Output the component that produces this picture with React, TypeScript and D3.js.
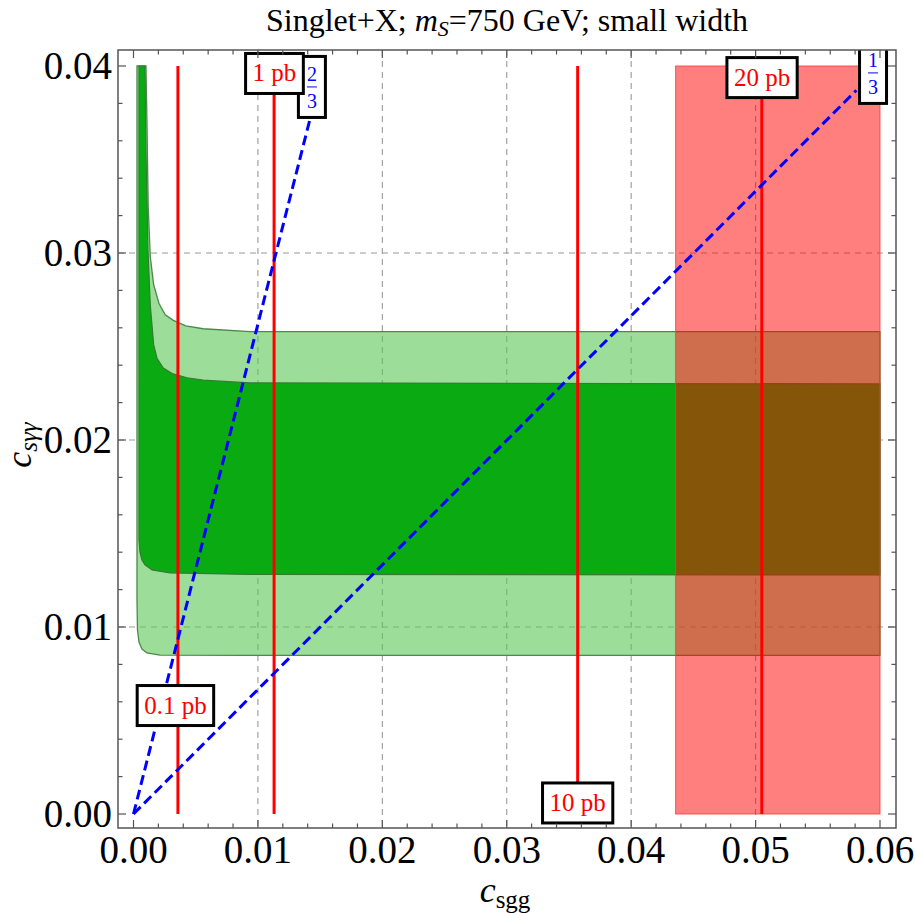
import React from 'react';
import * as d3 from 'd3';

const W = 915;
const H = 913;
const FRAME = { left: 118, right: 896, top: 50, bottom: 828 };

// axes
const xTickValues = [0, 0.01, 0.02, 0.03, 0.04, 0.05, 0.06];
const xTickLabels = ['0.00', '0.01', '0.02', '0.03', '0.04', '0.05', '0.06'];
const yTickValues = [0, 0.01, 0.02, 0.03, 0.04];
const yTickLabels = ['0.00', '0.01', '0.02', '0.03', '0.04'];
const xGridValues = [0.01, 0.02, 0.03, 0.04, 0.05];
const yGridValues = [0.01, 0.02, 0.03];

// green 1-sigma / 2-sigma regions (boundaries)
const outerUpper: [number, number][] = [
  [0.001, 0.04], [0.00108, 0.0371], [0.00118, 0.0325], [0.00135, 0.0298], [0.00162, 0.0283],
  [0.00205, 0.0273], [0.00255, 0.0267], [0.0032, 0.0264], [0.0042, 0.0261], [0.0056, 0.02595],
  [0.00936, 0.0258], [0.06, 0.0258],
];
const outerLower: [number, number][] = [
  [0.00028, 0.04], [0.00028, 0.01144], [0.00032, 0.00984], [0.00044, 0.0092], [0.00068, 0.00882],
  [0.00108, 0.00861], [0.00213, 0.0085], [0.00936, 0.00848], [0.06, 0.00848],
];
const innerUpper: [number, number][] = [
  [0.00092, 0.04], [0.001, 0.0355], [0.00116, 0.0302], [0.00135, 0.0272], [0.00162, 0.0251],
  [0.0019, 0.02435], [0.0024, 0.02385], [0.0031, 0.02355], [0.0043, 0.02333], [0.0056, 0.0232],
  [0.00936, 0.02305], [0.06, 0.023],
];
const innerLower: [number, number][] = [
  [0.00044, 0.04], [0.00044, 0.01465], [0.00052, 0.014], [0.00068, 0.01358], [0.00092, 0.01332],
  [0.00149, 0.01305], [0.00293, 0.01289], [0.00936, 0.01281], [0.06, 0.01278],
];

// excluded region (red band)
const excludedX = [0.04357, 0.06];
const excludedY = [0, 0.04];

// cross-section contours
const xsecNames = ['0.1 pb', '1 pb', '10 pb', '20 pb'];
const xsecX = [0.00357, 0.0113, 0.0357, 0.0505];
const xsecLabelX = [0.00337, 0.01133, 0.0357, 0.05052];
const xsecLabelY = [0.0058, 0.0396, 0.00059, 0.03938];

// ratio lines
const ratioNum = ['2', '1'];
const ratioDen = ['3', '3'];
const ratioEndX = [0.0142, 0.0581];
const ratioEndY = [0.0372, 0.0387];
const ratioLabelX = [0.01434, 0.05944];
const ratioLabelY = [0.03888, 0.03963];

const SERIF = '"Liberation Serif", "Times New Roman", serif';

let ctx: CanvasRenderingContext2D | null = null;
function measure(text: string, size: number) {
  if (!ctx) ctx = document.createElement('canvas').getContext('2d');
  if (!ctx) return text.length * size * 0.5;
  ctx.font = `${size}px "Liberation Serif"`;
  return ctx.measureText(text).width;
}

export default function App() {
  const x = d3.scaleLinear().domain([0, 0.06]).range([133.5, 880]);
  const y = d3.scaleLinear().domain([0, 0.04]).range([814, 66]);

  const line = d3.line<[number, number]>().x((d) => x(d[0])).y((d) => y(d[1]));
  const region = (upper: [number, number][], lower: [number, number][]) =>
    d3.line<[number, number]>().x((d) => x(d[0])).y((d) => y(d[1])).curve(d3.curveLinearClosed)(
      [...upper, ...[...lower].reverse()]
    ) as string;

  const xMinor = d3.range(0, 0.0601, 0.002);
  const yMinor = d3.range(0, 0.0401, 0.002);
  const isMajor = (v: number) => Math.abs(v * 100 - Math.round(v * 100)) < 1e-6;

  const tickColor = '#555';
  const labelSize = 25;

  return (
    <svg width={W} height={H} style={{ position: 'absolute', left: 0, top: 0, background: '#fff' }} fontFamily={SERIF}>
      <defs>
        <clipPath id="plot">
          <rect x={FRAME.left} y={FRAME.top} width={FRAME.right - FRAME.left} height={FRAME.bottom - FRAME.top} />
        </clipPath>
      </defs>
      <rect x={0} y={0} width={W} height={H} fill="#fff" />

      {/* title */}
      <text x={(FRAME.left + FRAME.right) / 2} y={31} textAnchor="middle" fontSize={32} fill="#000">
        <tspan>Singlet+X; </tspan>
        <tspan fontStyle="italic">m</tspan>
        <tspan fontStyle="italic" fontSize={22} dy={5}>S</tspan>
        <tspan dy={-5}>=750 GeV; small width</tspan>
      </text>

      <g clipPath="url(#plot)">
        {/* grid */}
        {xGridValues.map((v) => (
          <line key={'gx' + v} x1={x(v)} x2={x(v)} y1={FRAME.top} y2={FRAME.bottom} stroke="#999" strokeWidth={1.1} strokeDasharray="6,5" />
        ))}
        {yGridValues.map((v) => (
          <line key={'gy' + v} y1={y(v)} y2={y(v)} x1={FRAME.left} x2={FRAME.right} stroke="#999" strokeWidth={1.1} strokeDasharray="6,5" />
        ))}

        {/* green regions */}
        <path d={region(outerUpper, outerLower)} fill="rgb(92,198,87)" fillOpacity={0.6} stroke="#4a8a4a" strokeWidth={1.3} />
        <path d={region(innerUpper, innerLower)} fill="rgb(10,171,18)" stroke="#357a35" strokeWidth={1.2} />

        {/* excluded band */}
        <rect
          x={x(excludedX[0])}
          y={y(excludedY[1])}
          width={x(excludedX[1]) - x(excludedX[0])}
          height={y(excludedY[0]) - y(excludedY[1])}
          fill="rgb(255,0,0)"
          fillOpacity={0.5}
          stroke="rgb(255,60,60)"
          strokeOpacity={0.7}
          strokeWidth={1.2}
        />

        {/* cross-section lines */}
        {xsecX.map((v, i) => (
          <line key={'xs' + i} x1={x(v)} x2={x(v)} y1={y(0)} y2={y(0.04)} stroke="#ff0000" strokeWidth={3} />
        ))}

        {/* ratio lines */}
        {ratioEndX.map((v, i) => (
          <path key={'rl' + i} d={line([[0, 0], [v, ratioEndY[i]]]) as string} stroke="#0000ff" strokeWidth={3} strokeDasharray="10,5" fill="none" />
        ))}

        {/* ratio labels */}
        {ratioLabelX.map((v, i) => {
          const cx = x(v);
          const cy = y(ratioLabelY[i]);
          const bw = 27;
          const bh = 61;
          return (
            <g key={'rlab' + i}>
              <rect x={cx - bw / 2} y={cy - bh / 2} width={bw} height={bh} fill="#fff" stroke="#000" strokeWidth={3} />
              <text x={cx} y={cy - 6} textAnchor="middle" fontSize={20} fill="#0000ff">{ratioNum[i]}</text>
              <line x1={cx - 5} x2={cx + 5} y1={cy} y2={cy} stroke="#0000ff" strokeWidth={1} />
              <text x={cx} y={cy + 21} textAnchor="middle" fontSize={20} fill="#0000ff">{ratioDen[i]}</text>
            </g>
          );
        })}

        {/* cross-section labels */}
        {xsecNames.map((name, i) => {
          const cx = x(xsecLabelX[i]);
          const cy = y(xsecLabelY[i]);
          const tw = measure(name, labelSize);
          const bw = tw + 14;
          const bh = 40;
          return (
            <g key={'xl' + i}>
              <rect x={cx - bw / 2} y={cy - bh / 2} width={bw} height={bh} fill="#fff" stroke="#000" strokeWidth={3} />
              <text x={cx} y={cy + 8} textAnchor="middle" fontSize={labelSize} fill="#ff0000">{name}</text>
            </g>
          );
        })}
      </g>

      {/* frame */}
      <rect x={FRAME.left} y={FRAME.top} width={FRAME.right - FRAME.left} height={FRAME.bottom - FRAME.top} fill="none" stroke={tickColor} strokeWidth={1.5} />

      {/* ticks */}
      {xMinor.map((v) => {
        const len = isMajor(v) ? 8 : 4.5;
        return (
          <g key={'tx' + v}>
            <line x1={x(v)} x2={x(v)} y1={FRAME.bottom} y2={FRAME.bottom - len} stroke={tickColor} strokeWidth={1.2} />
            <line x1={x(v)} x2={x(v)} y1={FRAME.top} y2={FRAME.top + len} stroke={tickColor} strokeWidth={1.2} />
          </g>
        );
      })}
      {yMinor.map((v) => {
        const len = isMajor(v) ? 8 : 4.5;
        return (
          <g key={'ty' + v}>
            <line y1={y(v)} y2={y(v)} x1={FRAME.left} x2={FRAME.left + len} stroke={tickColor} strokeWidth={1.2} />
            <line y1={y(v)} y2={y(v)} x1={FRAME.right} x2={FRAME.right - len} stroke={tickColor} strokeWidth={1.2} />
          </g>
        );
      })}

      {/* tick labels */}
      {xTickValues.map((v, i) => (
        <text key={'xl' + v} x={x(v)} y={863} textAnchor="middle" fontSize={39} fill="#000">{xTickLabels[i]}</text>
      ))}
      {yTickValues.map((v, i) => (
        <text key={'yl' + v} x={112} y={y(v) + 13} textAnchor="end" fontSize={39} fill="#000">{yTickLabels[i]}</text>
      ))}

      {/* axis labels */}
      <text x={505} y={902} textAnchor="middle" fontSize={36} fill="#000">
        <tspan fontStyle="italic">c</tspan>
        <tspan fontSize={25} dy={6}>sgg</tspan>
      </text>
      <text transform="translate(31,445) rotate(-90)" textAnchor="middle" fontSize={36} fill="#000">
        <tspan fontStyle="italic">c</tspan>
        <tspan fontSize={25} dy={6} fontStyle="italic">sγγ</tspan>
      </text>
    </svg>
  );
}
